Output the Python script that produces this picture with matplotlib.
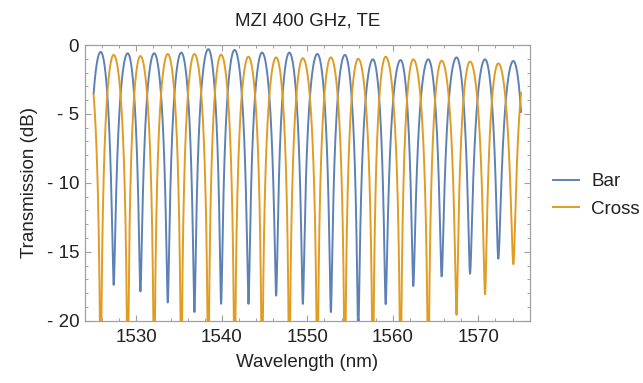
import numpy as np
import matplotlib.pyplot as plt
from matplotlib.ticker import MultipleLocator, FixedLocator, FixedFormatter

plt.rcParams['font.family'] = ['Liberation Sans', 'DejaVu Sans']

# fringe extrema (wavelength in nm, level in dB)
# Bar peaks sit on the Cross dips and vice versa
bar_peak_nm = [1525.82, 1528.98, 1532.08, 1535.25, 1538.41, 1541.49, 1544.70, 1547.89,
               1551.17, 1554.39, 1557.67, 1560.91, 1564.15, 1567.45, 1570.79, 1574.10]
bar_peak_db = [-0.5, -0.6, -0.6, -0.55, -0.3, -0.36, -0.55, -0.55,
               -0.65, -0.72, -1.04, -1.09, -1.04, -0.9, -1.04, -1.16]
bar_dip_nm = [1524.2, 1527.34, 1530.47, 1533.67, 1536.79, 1539.91, 1543.11, 1546.35,
              1549.47, 1552.75, 1555.95, 1559.16, 1562.39, 1565.71, 1569.03, 1572.34, 1575.7]
bar_dip_db = [-17.0, -17.4, -17.9, -18.7, -19.4, -18.8, -18.8, -18.2,
              -18.8, -19.4, -21.0, -18.8, -17.5, -16.8, -16.6, -15.5, -15.0]
cross_peak_db = [-0.7, -0.72, -0.8, -0.65, -0.65, -0.7, -0.85, -0.9,
                 -0.96, -0.9, -1.0, -0.85, -1.04, -1.14, -1.2, -1.33, -1.35]
# first 13 cross dips are clipped below -20 dB in the picture
cross_dip_db = [-25, -25, -25, -25, -25, -25, -25, -25,
                -25, -25, -25, -25, -25, -19.6, -18.1, -15.9]

wl_start, wl_stop = 1525.0, 1575.0


def fringe_trace(lam, pos, lev):
    # cos^2 shaped transition between neighbouring extrema
    order = np.argsort(pos)
    pos = np.asarray(pos)[order]
    lin = 10 ** (np.asarray(lev)[order] / 10)
    i = np.clip(np.searchsorted(pos, lam) - 1, 0, len(pos) - 2)
    u = (lam - pos[i]) / (pos[i + 1] - pos[i])
    w = np.sin(np.pi * u / 2) ** 2
    return 10 * np.log10(lin[i] * (1 - w) + lin[i + 1] * w)


lam = np.arange(wl_start, wl_stop + 0.001, 0.02)
bar = fringe_trace(lam, bar_peak_nm + bar_dip_nm, bar_peak_db + bar_dip_db)
cross = fringe_trace(lam, bar_dip_nm + bar_peak_nm, cross_peak_db + cross_dip_db)

fig = plt.figure(figsize=(6.43, 3.83), dpi=100)
ax = fig.add_axes([0.1317, 0.1627, 0.6926, 0.7198])

ax.plot(lam, bar, color='#5E81B5', lw=1.4, label='Bar')
ax.plot(lam, cross, color='#E19C24', lw=1.4, label='Cross')

ax.set_xlim(1523.95, 1576.05)
ax.set_ylim(-20, 0)

ax.xaxis.set_major_locator(MultipleLocator(10))
ax.xaxis.set_minor_locator(MultipleLocator(2))
yt = [-20, -15, -10, -5, 0]
ax.yaxis.set_major_locator(FixedLocator(yt))
ax.yaxis.set_major_formatter(FixedFormatter(['- 20', '- 15', '- 10', '- 5', '0']))
ax.yaxis.set_minor_locator(MultipleLocator(1))

txt = '#222222'
frame = '#A0A0A0'
for s in ax.spines.values():
    s.set_color(frame)
    s.set_linewidth(0.9)
ax.tick_params(which='both', direction='in', top=True, right=True,
               color=frame, labelsize=13.5, labelcolor=txt)
ax.tick_params(which='major', length=4, width=0.8)
ax.tick_params(which='minor', length=2.3, width=0.7)
ax.tick_params(axis='x', pad=6)
ax.tick_params(axis='y', pad=4)

ax.set_title('MZI 400 GHz, TE', fontsize=13.5, color=txt, pad=14)
ax.set_xlabel('Wavelength (nm)', fontsize=13.5, color=txt, labelpad=6)
ax.set_ylabel('Transmission (dB)', fontsize=13.5, color=txt, labelpad=6)

ax.legend(loc='center left', bbox_to_anchor=(553 / 643, 1 - 195.4 / 383),
          bbox_transform=fig.transFigure, frameon=False, fontsize=13.5,
          handlelength=1.4, handletextpad=0.65, labelspacing=0.55,
          borderpad=0, borderaxespad=0, labelcolor=txt)

fig.savefig('out.png', dpi=100)
